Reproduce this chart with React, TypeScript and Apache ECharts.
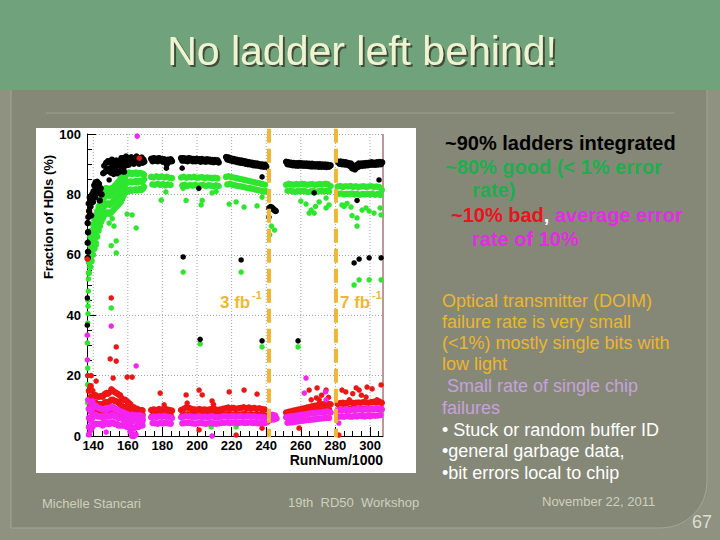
import React, { useEffect, useRef } from "react";
import * as echarts from "echarts";

// ---- axis / annotation data ----
const xMajorTicks = [140, 160, 180, 200, 220, 240, 260, 280, 300];
const xMinorTicks = [145, 150, 155, 165, 170, 175, 185, 190, 195, 205, 210, 215, 225, 230, 235, 245, 250, 255, 265, 270, 275, 285, 290, 295, 305];
const lumiLines = [241.6, 280.3];
const lumiLabels = ["3 fb", "7 fb"];

// ---- black: fraction integrated ----
const blackBand: number[][] = [
  [136.8,59],[137,61],[136.8,64],[137,67.5],[136.8,70.5],[137.2,72.5],[137.6,74.5],[137.4,77],[138,79],[138.4,76],[138.8,73],[139,78],[139.4,80],[139.8,77.5],[140.2,81],[140.6,83],[141,79],[141.4,84],[141.8,82],[142.3,84.2],[142.8,80.5],[143.3,83.5],[143.8,78],[144.3,82],[144.8,80],
  [145.8,87],[146.4,89.5],[147,87.5],[147.5,90.5],[148,88],[148.6,91],[149.2,88.5],[149.8,90.5],[150.3,87.2],[150.8,91.5],[151.3,89],[151.8,86.8],[152.3,90.2],[152.8,88],[153.3,91.2],[153.8,87],[154.3,89.5],[154.8,91],[155.3,87.5],[155.8,89.8],[156.3,92],[156.8,88.5],[157.3,90.5],[157.8,87.5],[158.3,91.5],
  [157,92],[158.5,89.5],[159,92.5],[159.5,90.5],[160,91.8],[160.5,89.8],[161,92],[161.5,90.5],[162,92.3],[162.5,90.8],[163,91.7],[163.5,90.2],[164,92],[164.5,91],[165,92.5],[165.5,90.8],[166,91.8],[166.5,90.2],[167,92],[167.5,91],[168,92.2],[168.5,90.5],[169,91.5],[169.5,90.8],
  [173.5,91.8],[174.3,91],[175,92],[175.8,91.2],[176.5,91.8],[177.3,91],[178,92],[178.8,91.3],[179.5,91.7],[180.3,90.8],[181,91.6],[181.8,91],[182.5,90],[183.2,91.5],[184,90.8],[184.8,91.6],[185.5,91],
  [190.8,92],[191.5,91.2],[192.3,92],[193,91.2],[193.8,91.8],[194.5,91],[195.3,92],[196,91.3],[196.8,91.8],[197.5,91],[198.3,91.7],[199,91],[199.8,91.8],[200.5,91.2],[201.3,91.6],[202,90.8],[202.8,91.7],[203.5,91],[204.3,91.5],[205,90.8],[205.8,91.6],[206.5,91],[207.3,91.5],[208,90.8],[208.8,91.4],[209.5,90.7],[210.3,91.4],[211,90.8],[211.8,91.3],[212.5,90.6],
  [216.8,92.4],[217.5,91.6],[218.3,92.2],[219,91.3],[219.8,91.9],[220.5,91.1],[221.3,91.7],[222,90.9],[222.8,91.5],[223.5,90.7],[224.3,91.3],[225,90.5],[225.8,91.2],[226.5,90.4],[227.3,91],[228,90.2],[228.8,90.8],[229.5,90],[230.3,90.6],[231,89.9],[231.8,90.5],[232.5,89.7],[233.3,90.3],[234,89.6],[234.8,90.2],[235.5,89.5],[236.3,90],[237,89.3],[237.8,89.9],[238.5,89.2],[239.3,89.8],[240,89.2],
  [241.8,75.5],[242.5,75.8],[243.3,75.6],[244,75.2],[244.8,74.8],[245.5,74.5],
  [251.5,90.8],[252.3,90],[253,90.6],[253.8,89.8],[254.5,90.5],[255.3,89.7],[256,90.4],[256.8,89.6],[257.5,90.3],[258.3,89.5],[259,90.4],[259.8,89.6],[260.5,90.3],[261.3,89.5],[262,90.2],[262.8,89.5],[263.5,90.2],[264.3,89.4],[265,90.1],[265.8,89.3],[266.5,90.1],[267.3,89.3],[268,90],[268.8,89.3],[269.5,90],[270.3,89.2],[271,90],[271.8,89.2],[272.5,89.9],[273.3,89.2],[274,89.9],[274.8,89.1],[275.5,89.8],[276.3,89.2],[277.2,89.6],
  [281.5,90.8],[282.3,90.2],[283,90.9],[283.8,90],[284.5,90.7],[285.3,89.9],[286,90.6],[286.8,89.8],[287.5,90.4],[288.3,89.4],[289,90.2],[289.8,88.6],[290.5,89.2],[291.3,88.3],[292,89.6],[292.8,89],[293.5,90.2],[294.3,89.4],[295,90.2],[295.8,89.5],[296.5,90.3],[297.3,89.6],[298,90.4],[298.8,89.7],[299.5,90.5],[300.3,89.8],[301,90.6],[301.8,89.8],[302.5,90.5],[303.3,89.8],[304,90.6],[304.8,89.9],[305.5,90.7],[306.3,90],[307,90.6]
];
const blackIso: number[][] = [
  [136.6,36.7],[136.6,45.7],[149.2,84.8],[182.3,88.7],[191.4,88.7],[201,82],[192,59.3],[237.6,85.8],[241.6,72.5],[225.5,58.3],[267.7,80.5],[305.2,84.8],[292.5,78],
  [290.8,57.3],[293.7,58.6],[299.5,59],[306.4,59],[237.6,31.5],[258.4,31.5],[201.8,32]
];

// ---- green: good ladders ----
const greenBand: number[][] = [
  [137.5,54],[137.5,57.5],[137.5,61],
  [138.3,56],[138.3,59.5],[138.3,63],[138.3,66],[139.1,58],[139.1,61.5],[139.1,65],[139.1,68],[139.9,60],[139.9,63.5],[139.9,67],[139.9,70],
  [140.7,62],[140.7,65.5],[140.7,69],[140.7,71.5],[141.5,64],[141.5,67.5],[141.5,71],[141.5,73],[142.3,66],[142.3,69.5],[142.3,72.5],[142.3,74.5],
  [143.1,68],[143.1,71],[143.1,74],[143.1,76],[143.9,69.5],[143.9,72.5],[143.9,75.5],[143.9,77.5],[144.7,71],[144.7,74],[144.7,77],[144.7,79],
  [145.5,72],[145.5,75],[145.5,78],[145.5,80.5],[146.3,73],[146.3,76],[146.3,79],[146.3,81.5],[147.1,73.5],[147.1,76.5],[147.1,79.5],[147.1,82],
  [147.9,74],[147.9,77],[147.9,80],[147.9,82],[148.7,74],[148.7,77],[148.7,80],[148.7,81.5],[149.5,73.5],[149.5,76.5],[149.5,79.5],[149.5,81.5],
  [150.3,74],[150.3,77],[150.3,80],[150.3,82],[151.1,74.5],[151.1,77.5],[151.1,80.5],[151.1,82],[151.9,75],[151.9,78],[151.9,81],[151.9,82.5],
  [152.7,75.5],[152.7,78.5],[152.7,81.5],[152.7,83],[153.5,76],[153.5,79],[153.5,82],[153.5,83.5],[154.3,76.5],[154.3,79.5],[154.3,82.5],[154.3,84],
  [155.1,77],[155.1,80],[155.1,83],[155.1,84.5],[155.9,77.5],[155.9,80.5],[155.9,83.5],[155.9,85.5],[156.7,78.5],[156.7,81.5],[156.7,84.5],[156.7,86.5],
  [157.5,79.5],[157.5,82.5],[157.5,85],[157.5,87],[158.3,80.5],[158.3,83],[158.3,85.5],[158.3,87.5],
  [159.1,81.5],[159.1,84.2],[159.1,87],[159.9,81],[159.9,84],[159.9,86.8],[160.7,81.3],[160.7,84.1],[160.7,87.2],[161.5,81.6],[161.5,84.3],[161.5,87],
  [162.3,81.2],[162.3,84],[162.3,86.8],[163.1,81.5],[163.1,84.2],[163.1,87.1],[163.9,81.4],[163.9,84.1],[163.9,86.9],[164.7,81.7],[164.7,84.4],[164.7,87.2],
  [165.5,81.3],[165.5,84],[165.5,86.8],[166.3,81.6],[166.3,84.3],[166.3,87],[167.1,81.8],[167.1,84.5],[167.1,87.1],[167.9,81.5],[167.9,84.2],[167.9,86.9],
  [168.7,81.9],[168.7,84.4],[168.7,86.8],[169.4,82.5],[169.4,85],[169.4,86.5],
  [173.5,85.8],[174.2,83.3],[175,85.6],[175.7,83.2],[176.5,86],[177.2,83.5],[178,85.7],[178.7,83.1],[179.5,85.9],[180.2,83.4],[181,85.6],[181.7,83],[182.5,85.8],[183.2,83.3],[184,85.5],[184.7,83.1],[185.5,85.4],
  [190.8,85.6],[191.5,83],[192.3,85.8],[193,83.2],[193.8,85.5],[194.5,82.8],[195.3,85.7],[196,83.1],[196.8,85.6],[197.5,82.9],[198.3,85.8],[199,83.2],[199.8,85.5],[200.5,82.8],[201.3,85.6],[202,83],[202.8,85.7],[203.5,83.1],[204.3,85.4],[205,82.8],[205.8,85.6],[206.5,83],[207.3,85.5],[208,82.9],[208.8,85.4],[209.5,82.7],[210.3,85.5],[211,83],[211.8,85.3],[212.5,82.8],
  [216.8,85.8],[217.5,83.3],[218.3,86],[219,83.5],[219.8,85.7],[220.5,83.2],[221.3,85.6],[222,83],[222.8,85.4],[223.5,82.8],[224.3,85.2],[225,82.7],[225.8,85],[226.5,82.5],[227.3,84.8],[228,82.3],[228.8,84.6],[229.5,82.1],[230.3,84.4],[231,82],[231.8,84.2],[232.5,81.8],[233.3,84],[234,81.6],[234.8,83.8],[235.5,81.4],[236.3,83.6],[237,81.2],[237.8,83.4],[238.5,81],[239.3,83.2],[240,81],
  [251.5,83.2],[252.3,81.2],[253,83.5],[253.8,81.3],[254.5,83.3],[255.3,81],[256,83.2],[256.8,80.9],[257.5,83.4],[258.3,81.1],[259,83.3],[259.8,81],[260.5,83.5],[261.3,81.2],[262,83.4],[262.8,81],[263.5,83.2],[264.3,80.8],[265,83.3],[265.8,81],[266.5,83.4],[267.3,81.1],[268,83.2],[268.8,80.9],[269.5,83.3],[270.3,81],[271,83.4],[271.8,81.1],[272.5,83.3],[273.3,81],[274,83.5],[274.8,81.2],[275.5,83.4],[276.3,81],[277.2,82.8],
  [281.3,82.6],[282,80.2],[282.8,82.8],[283.5,80.3],[284.3,82.5],[285,80],[285.8,82.7],[286.5,80.2],[287.3,82.6],[288,80.1],[288.8,82.8],[289.5,80.3],[290.3,82.5],[291,80],[291.8,82.7],[292.5,80.2],[293.3,82.4],[294,79.9],[294.8,82.6],[295.5,80.1],[296.3,82.7],[297,80],[297.8,82.5],[298.5,80.2],[299.3,82.6],[300,80],[300.8,82.7],[301.5,80.3],[302.3,82.5],[303,79.9],[303.8,82.6],[304.5,80.1],[305.3,82.4],[306,79.8],[306.8,81.5]
];
const greenIso: number[][] = [
  [136.8,11],[136.8,17],[136.8,22.5],[136.6,30.8],[136.8,37.4],[137,40.5],[137,43],[136.8,45],[137.2,48],[137.2,52],
  [159.6,73.5],[162.5,73.2],[164.8,68.9],[151,72],[149.2,70.5],[152,69.5],[150.4,63],[153.3,64.6],[153.3,60.6],[141.7,63.2],[150.4,42.4],
  [179.3,78.1],[182,80.8],[192,82],[193.7,78],[202.4,76.5],[203,78],[208.7,80.5],[211,81],[192,54.3],[201.8,30.5],[208.2,3],
  [218.6,76.8],[222.6,77.5],[227.2,75.8],[234.7,76.2],[237.6,79.1],[243,69.5],[244.8,68.2],[242,66.6],[225.5,54.3],[237.6,29.5],[222.6,3],
  [263,76.8],[266,74.8],[267.7,73.8],[270.6,77.5],[274.6,78.8],[276.3,76.5],[264.8,73.8],[274.6,75.5],[268.5,76],[260,77.8],[258.4,29.5],
  [282,90.4],[283.8,76.5],[285,76],[286.7,77],[289.6,73],[289,75.8],[292.5,69.5],[292.5,72.2],[295.4,74.8],[297.7,75.5],[299.5,74.5],[302.3,73.8],[305.8,75.5],[306.4,73.2],
  [290.8,50],[293.7,51.7],[299.5,51.7],[306.4,51.7]
];

// ---- red: bad ladders ----
const redBand: number[][] = [
  [137.5,9],[137.5,12],[137.5,15],[138.5,10],[138.5,13],[138.5,16.5],[139.5,9],[139.5,12],[139.5,15],[140.5,8.5],[140.5,11],[140.5,13.5],
  [141.5,8.5],[141.5,11],[141.5,13.5],[142.5,8],[142.5,10.5],[142.5,13],[143.5,8],[143.5,10.5],[143.5,13],[144.5,8],[144.5,10.5],[144.5,13.2],
  [145.5,8],[145.5,10.5],[145.5,13],[146.5,8.5],[146.5,11],[146.5,13.8],[147.5,8.5],[147.5,11.2],[147.5,14.2],[148.5,8.5],[148.5,11.2],[148.5,14],
  [149.5,9],[149.5,11.5],[149.5,14.5],[150.5,9],[150.5,12],[150.5,15.5],[151.5,9],[151.5,12],[151.5,15],[152.5,8.5],[152.5,11.5],[152.5,14.5],
  [153.5,8.5],[153.5,11.5],[153.5,14.2],[154.5,8.5],[154.5,11],[154.5,13.8],[155.5,8],[155.5,10.5],[155.5,13.5],[156.5,7.5],[156.5,10],[156.5,12.5],
  [157.5,7],[157.5,9.5],[157.5,12],[158.5,7],[158.5,9.5],[158.5,12],[159.5,7],[159.5,9.5],[159.5,11.5],[160.5,6.5],[160.5,9],[160.5,11],
  [161.5,6.5],[161.5,8.5],[161.5,10.5],[162.5,6],[162.5,8],[162.5,9.5],[163.5,6],[163.5,8],[163.5,9.5],[164.5,6],[164.5,7.5],[164.5,9],
  [165.5,6],[165.5,7.5],[165.5,9],[166.5,6],[166.5,7.5],[166.5,8.5],[167.5,6],[167.5,7.5],[167.5,8.5],[168.5,5.5],[168.5,7],[168.5,8.5],
  [173.5,8.6],[174.3,6.8],[175,8.8],[175.8,7],[176.5,8.5],[177.3,6.8],[178,8.9],[178.8,7.1],[179.5,8.7],[180.3,7],[181,9.2],[181.8,7.2],[182.5,8.8],[183.3,7],[184,8.6],[184.8,6.9],[185.5,8.4],
  [190.8,8.6],[191.5,6.8],[192.3,9],[193,7],[193.8,9.5],[194.5,7.2],[195.3,9.3],[196,7.1],[196.8,9],[197.5,7],[198.3,8.8],[199,6.9],[199.8,8.7],[200.5,6.8],[201.3,8.9],[202,7],[202.8,8.7],[203.5,6.9],[204.3,8.8],[205,7],[205.8,8.6],[206.5,6.8],[207.3,8.8],[208,7],[208.8,9],[209.5,7.1],[210.3,8.9],[211,7],[211.8,8.6],[212.5,6.9],
  [213.5,8.8],[214.3,7],[215,9],[215.8,7.1],[216.5,9.2],[217.3,7.2],[218,9.4],[218.8,7.3],[219.5,9.1],[220.3,7],[221,9.3],[221.8,7.2],[222.5,9],[223.3,7],[224,9.2],[224.8,7.1],[225.5,9.3],[226.3,7.2],[227,9.5],[227.8,7.3],[228.5,9.2],[229.3,7.1],[230,9.4],[230.8,7.2],[231.5,9.1],[232.3,7],[233,9.3],[233.8,7.1],[234.5,9],[235.3,7],[236,9.2],[236.8,7],[237.5,8.9],[238.3,6.9],[239,8.8],[239.8,6.8],
  [251.5,7.8],[252.3,6.2],[253,8],[253.8,6.3],[254.5,8.2],[255.3,6.5],[256,8.4],[256.8,6.6],[257.5,8.6],[258.3,6.8],[259,8.8],[259.8,7],[260.5,9],[261.3,7.2],[262,9.2],[262.8,7.4],[263.5,9.4],[264.3,7.6],[265,9.6],[265.8,7.8],[266.5,9.8],[267.3,8],[268,10],[268.8,8.2],[269.5,10.2],[270.3,8.4],[271,10.4],[271.8,8.5],[272.5,10.5],[273.3,8.6],[274,10.6],[274.8,8.7],[275.5,10.7],[276.3,8.8],[277.2,10.5],
  [281.3,10.6],[282,8.6],[282.8,10.9],[283.5,8.8],[284.3,11],[285,8.9],[285.8,10.8],[286.5,8.7],[287.3,11],[288,8.9],[288.8,11.2],[289.5,9],[290.3,10.9],[291,8.8],[291.8,11],[292.5,8.9],[293.3,11.1],[294,9],[294.8,11],[295.5,8.8],[296.3,11.2],[297,9],[297.8,11.1],[298.5,8.9],[299.3,11],[300,8.8],[300.8,11.2],[301.5,9],[302.3,11.3],[303,9.1],[303.8,11.2],[304.5,9],[305.3,11.4],[306,9.1],[306.8,11]
];
const redIso: number[][] = [
  [136.8,20],[138.8,20],[141.7,18.2],[136.6,58.6],[150.4,45.7],[149.8,25.5],[153.3,24.8],[153.3,29.5],[151.5,19.2],[159.6,19.5],[162.5,19.5],[166.6,92],[166.6,3],[164,0.5],
  [178.7,14.2],[181,10.3],[193.7,13.6],[194.3,10.9],[201.2,15.2],[203,13.6],[201.2,2],[208.7,11.6],[209.5,10.5],
  [218.6,14.6],[227.2,15.2],[234.7,13.9],[237.6,2.6],[222.6,0.3],[241,4.6],
  [259,2.6],[264.8,15.2],[266,12],[269,12.6],[269.4,15.9],[270.6,12],[274.6,15.2],[272,13.5],[276,12.8],
  [283.8,15.2],[286,14.6],[292,15.9],[293.7,15.2],[298.3,16.2],[301.2,15.6],[306.4,16.9],[304,12],[297.7,12.9],[288,12],[282,0.3],[295,13.5],[290,14]
];

// ---- magenta: average error rate ----
const magentaBand: number[][] = [
  [137.5,0.5],[137.5,3],[137.5,6],[137.5,9],[138.5,2],[138.5,5],[138.5,8],[138.5,11],[139.5,3],[139.5,6],[139.5,9],[139.5,11.5],
  [140.5,4],[140.5,7],[140.5,10],[141.5,4],[141.5,7],[141.5,10],[142.5,4],[142.5,6.5],[142.5,9.5],[143.5,4],[143.5,6.5],[143.5,9.2],
  [144.5,4],[144.5,6.5],[144.5,9],[145.5,3.5],[145.5,6],[145.5,8.8],[146.5,4],[146.5,6.5],[146.5,9],[147.5,4.5],[147.5,7],[147.5,9.2],
  [148.5,4],[148.5,6.5],[148.5,9],[149.5,4],[149.5,6.5],[149.5,9.3],[150.5,4.5],[150.5,7],[150.5,9.5],[151.5,4.5],[151.5,7],[151.5,9.5],
  [152.5,4],[152.5,6.5],[152.5,9],[153.5,4],[153.5,6.5],[153.5,8.8],[154.5,3.5],[154.5,6],[154.5,8.5],[155.5,3.5],[155.5,6],[155.5,8.2],
  [156.5,3.5],[156.5,5.8],[156.5,8],[157.5,3.5],[157.5,5.5],[157.5,7.8],[158.5,3.5],[158.5,5.5],[158.5,7.5],[159.5,3],[159.5,5.2],[159.5,7.3],
  [160.5,3],[160.5,5],[160.5,7],[161.5,1.5],[161.5,4],[161.5,6.5],[162.5,0],[162.5,2.5],[162.5,5],[162.5,7],[163.5,0],[163.5,2.5],[163.5,5],[163.5,6.8],
  [164.5,0.5],[164.5,3],[164.5,5.5],[164.5,6.8],[165.5,3],[165.5,5],[165.5,6.8],[166.5,3.5],[166.5,5.2],[166.5,6.8],[167.5,3.5],[167.5,5.2],[167.5,6.8],[168.5,3.5],[168.5,5],[168.5,6.5],
  [173.5,6.2],[174.3,4.3],[175,6.4],[175.8,4.2],[176.5,6.3],[177.3,4.1],[178,6.5],[178.8,4.3],[179.5,6.4],[180.3,4.2],[181,6.6],[181.8,4.4],[182.5,6.4],[183.3,4.2],[184,6.3],[184.8,4.1],[185.5,6],
  [190.8,6.2],[191.5,4.2],[192.3,6.4],[193,4.3],[193.8,6.6],[194.5,4.4],[195.3,6.5],[196,4.3],[196.8,6.4],[197.5,4.2],[198.3,6.3],[199,4.1],[199.8,6.4],[200.5,4.2],[201.3,6.5],[202,4.3],[202.8,6.3],[203.5,4.2],[204.3,6.4],[205,4.1],[205.8,6.3],[206.5,4.2],[207.3,6.4],[208,4.3],[208.8,6.5],[209.5,4.2],[210.3,6.3],[211,4.1],[211.8,6.2],[212.5,4.2],
  [213.5,6.3],[214.3,4.3],[215,6.5],[215.8,4.4],[216.5,6.6],[217.3,4.5],[218,6.4],[218.8,4.3],[219.5,6.5],[220.3,4.4],[221,6.6],[221.8,4.5],[222.5,6.4],[223.3,4.2],[224,6.5],[224.8,4.4],[225.5,6.6],[226.3,4.5],[227,6.4],[227.8,4.3],[228.5,6.5],[229.3,4.4],[230,6.6],[230.8,4.5],[231.5,6.4],[232.3,4.3],[233,6.5],[233.8,4.4],[234.5,6.3],[235.3,4.2],[236,6.4],[236.8,4.3],[237.5,6.3],[238.3,4.2],[239,6.2],[239.8,4.4],
  [242,6.9],[242.8,5.4],[243.6,7],[244.4,5.5],[245.2,6.8],[246,5.8],
  [251.5,6.2],[252.3,4.4],[253,6.4],[253.8,4.5],[254.5,6.5],[255.3,4.6],[256,6.6],[256.8,4.7],[257.5,6.7],[258.3,4.8],[259,6.9],[259.8,5],[260.5,7],[261.3,5.1],[262,7.1],[262.8,5.2],[263.5,7.3],[264.3,5.3],[265,7.4],[265.8,5.4],[266.5,7.5],[267.3,5.5],[268,7.6],[268.8,5.6],[269.5,7.7],[270.3,5.7],[271,7.8],[271.8,5.8],[272.5,7.9],[273.3,5.9],[274,8],[274.8,6],[275.5,8.1],[276.3,6],[277.2,7.8],
  [281.3,8.5],[282,6.4],[282.8,8.7],[283.5,6.5],[284.3,8.6],[285,6.4],[285.8,8.8],[286.5,6.6],[287.3,8.7],[288,6.5],[288.8,8.6],[289.5,6.4],[290.3,8.8],[291,6.6],[291.8,8.7],[292.5,6.5],[293.3,8.9],[294,6.7],[294.8,8.8],[295.5,6.6],[296.3,8.7],[297,6.5],[297.8,8.9],[298.5,6.7],[299.3,8.8],[300,6.6],[300.8,9],[301.5,6.8],[302.3,8.9],[303,6.7],[303.8,9],[304.5,6.8],[305.3,9.1],[306,6.9],[306.8,8.8]
];
const magentaIso: number[][] = [
  [136.6,33.4],[136.6,25.2],[136.8,12],[147.5,1.3],[164.8,23.2],[150.4,36.4],[165.4,99.3],[208.7,0],
  [263,19.2],[262,14.2],[274.3,14.6],[274.6,12],[282,4.3],[290.8,6.6]
];

const FONT = "'Liberation Sans', Arial, Helvetica, sans-serif";
const ORANGE = "#f2b632";

function pts(band: number[][], iso: number[][]) {
  return [
    ...band.map((p) => ({ value: p, symbolSize: 6.5 })),
    ...iso.map((p) => ({ value: p, symbolSize: 5.5 })),
  ];
}

function txt(x: number, y: number, text: string, fill: string, font: string, extra: any = {}) {
  return {
    type: "text",
    z: 20,
    silent: true,
    x,
    y,
    style: { text, fill, font, align: "left", verticalAlign: "middle", ...extra },
  };
}

export default function App() {
  const ref = useRef<HTMLDivElement>(null);
  useEffect(() => {
    document.body.style.margin = "0";
    const chart = echarts.init(ref.current!, undefined, { renderer: "svg" });
    const bold20 = `bold 20px ${FONT}`;
    const reg18 = `18px ${FONT}`;
    const foot = `13px ${FONT}`;
    const graphics: any[] = [
      { type: "rect", z: 0, silent: true, shape: { x: 0, y: 0, width: 720, height: 540 }, style: { fill: "#8f9181" } },
      { type: "rect", z: 0, silent: true, shape: { x: 11, y: 80, width: 696, height: 448, r: [0, 0, 46, 0] }, style: { fill: "#858877", stroke: "#a4a693", lineWidth: 1 } },
      { type: "rect", z: 0, silent: true, shape: { x: 0, y: 0, width: 720, height: 90 }, style: { fill: "#70a27b" } },
      { type: "line", z: 0, silent: true, shape: { x1: 46, y1: 113, x2: 675, y2: 113 }, style: { stroke: "#9b9d8a", lineWidth: 1 } },
      { type: "rect", z: 0, silent: true, shape: { x: 36, y: 128, width: 380, height: 345 }, style: { fill: "#ffffff" } },
      { type: "line", z: 5, silent: true, shape: { x1: 383, y1: 134, x2: 383, y2: 436 }, style: { stroke: "#8b2c2c", lineWidth: 1 } },
      // title (with drop shadow)
      {
        type: "text", z: 21, silent: true, x: 362, y: 51,
        style: {
          text: "No ladder left behind!", fill: "#eef3d2", font: `41px ${FONT}`, align: "center", verticalAlign: "middle",
          textShadowColor: "#3f4d39", textShadowOffsetX: 2, textShadowOffsetY: 2, textShadowBlur: 1,
        },
      },
      // axis titles
      { type: "text", z: 20, silent: true, x: 383, y: 460, style: { text: "RunNum/1000", fill: "#000", font: `bold 14px ${FONT}`, align: "right", verticalAlign: "middle" } },
      { type: "text", z: 20, silent: true, x: 48, y: 217, rotation: Math.PI / 2, style: { text: "Fraction of HDIs (%)", fill: "#000", font: `bold 13px ${FONT}`, align: "center", verticalAlign: "middle" } },
      // luminosity labels
      txt(220, 302, lumiLabels[0], ORANGE, `bold 17px ${FONT}`),
      txt(252, 295, "-1", ORANGE, `bold 11px ${FONT}`),
      txt(340, 302, lumiLabels[1], ORANGE, `bold 17px ${FONT}`),
      txt(372, 295, "-1", ORANGE, `bold 11px ${FONT}`),
      // right bold text
      txt(445, 143, "~90% ladders integrated", "#000000", bold20),
      txt(445, 167, "~80% good (< 1% error", "#1fae4f", bold20),
      txt(472, 190, "rate)", "#1fae4f", bold20),
      {
        type: "text", z: 20, silent: true, x: 451, y: 215,
        style: {
          text: "{r|~10% bad}{w|,} {m|average error}",
          font: bold20, fill: "#e02ee0", verticalAlign: "middle",
          rich: {
            r: { fill: "#e8141c", font: bold20 },
            w: { fill: "#ffffff", font: bold20 },
            m: { fill: "#e02ee0", font: bold20 },
          },
        },
      },
      txt(472, 239, "rate of 10%", "#e02ee0", bold20),
      // lower right text
      txt(442, 301, "Optical transmitter (DOIM)", "#edb52f", reg18),
      txt(442, 322, "failure rate is very small", "#edb52f", reg18),
      txt(442, 343, "(<1%) mostly single bits with", "#edb52f", reg18),
      txt(442, 364, "low light", "#edb52f", reg18),
      txt(442, 386, " Small rate of single chip", "#c7a1dd", reg18),
      txt(442, 408, "failures", "#c7a1dd", reg18),
      txt(442, 430, "• Stuck or random buffer ID", "#ffffff", reg18),
      txt(442, 451, "•general garbage data,", "#ffffff", reg18),
      txt(442, 473, "•bit errors local to chip", "#ffffff", reg18),
      // footer
      txt(42, 503, "Michelle Stancari", "#cdd0bd", foot),
      txt(288, 502, "19th  RD50  Workshop", "#cdd0bd", foot),
      txt(542, 501, "November 22, 2011", "#cdd0bd", foot),
      txt(692, 522, "67", "#dcdfd0", `18px ${FONT}`),
    ];

    const option: any = {
      animation: false,
      backgroundColor: "transparent",
      tooltip: { show: false },
      grid: { left: 87, top: 134, width: 296, height: 302, containLabel: false },
      xAxis: [
        {
          type: "value", min: 136.4, max: 307.5, z: 6,
          axisLine: { show: true, lineStyle: { color: "#000", width: 1 } },
          axisTick: { show: true, inside: true, length: 9, customValues: xMajorTicks, lineStyle: { color: "#000" } },
          axisLabel: { show: true, customValues: xMajorTicks, color: "#000", fontWeight: "bold", fontSize: 13, fontFamily: FONT, margin: 3 },
          splitLine: { show: false },
        },
        {
          type: "value", min: 136.4, max: 307.5, position: "bottom", z: 6,
          axisLine: { show: false },
          axisTick: { show: true, inside: true, length: 5, customValues: xMinorTicks, lineStyle: { color: "#000" } },
          axisLabel: { show: false },
          splitLine: { show: false },
        },
      ],
      yAxis: [
        {
          type: "value", min: 0, max: 100, interval: 20, z: 6,
          axisLine: { show: true, lineStyle: { color: "#000", width: 1 } },
          axisTick: { show: true, inside: true, length: 9, lineStyle: { color: "#000" } },
          minorTick: { show: true, splitNumber: 4, length: 5, lineStyle: { color: "#000" } },
          axisLabel: { color: "#000", fontWeight: "bold", fontSize: 13, fontFamily: FONT, margin: 6 },
          splitLine: { show: true, lineStyle: { color: "#a8a8a8", width: 1, type: [1, 2] } },
        },
      ],
      graphic: { elements: graphics },
      series: [
        {
          type: "custom", z: 3, silent: true, xAxisIndex: 0, yAxisIndex: 0,
          data: xMajorTicks.map((v) => [v, 0]),
          renderItem: (_p: any, api: any) => {
            const x = api.value(0);
            const a = api.coord([x, 100]);
            const b = api.coord([x, 0]);
            return { type: "line", shape: { x1: a[0], y1: a[1], x2: b[0], y2: b[1] }, style: { stroke: "#a8a8a8", lineWidth: 1, lineDash: [1, 2] } };
          },
        },
        { type: "scatter", name: "good", z: 7, silent: true, xAxisIndex: 0, yAxisIndex: 0, symbol: "circle", data: pts(greenBand, greenIso), itemStyle: { color: "#2fe62f", opacity: 1 } },
        { type: "scatter", name: "integrated", z: 8, silent: true, xAxisIndex: 0, yAxisIndex: 0, symbol: "circle", data: pts(blackBand, blackIso), itemStyle: { color: "#000000", opacity: 1 } },
        { type: "scatter", name: "bad", z: 9, silent: true, xAxisIndex: 0, yAxisIndex: 0, symbol: "circle", data: pts(redBand, redIso), itemStyle: { color: "#ee1515", opacity: 1 } },
        { type: "scatter", name: "error rate", z: 10, silent: true, xAxisIndex: 0, yAxisIndex: 0, symbol: "circle", data: pts(magentaBand, magentaIso), itemStyle: { color: "#f425f0", opacity: 1 } },
        {
          type: "custom", z: 12, silent: true, xAxisIndex: 0, yAxisIndex: 0, clip: false,
          data: lumiLines.map((v) => [v, 0]),
          renderItem: (_p: any, api: any) => {
            const x = api.value(0);
            const a = api.coord([x, 101.7]);
            const b = api.coord([x, -0.4]);
            return { type: "line", shape: { x1: a[0], y1: a[1], x2: b[0], y2: b[1] }, style: { stroke: ORANGE, lineWidth: 4, lineDash: [14, 6] } };
          },
        },
      ],
    };
    chart.setOption(option);
    return () => chart.dispose();
  }, []);
  return <div ref={ref} style={{ width: 720, height: 540 }} />;
}
